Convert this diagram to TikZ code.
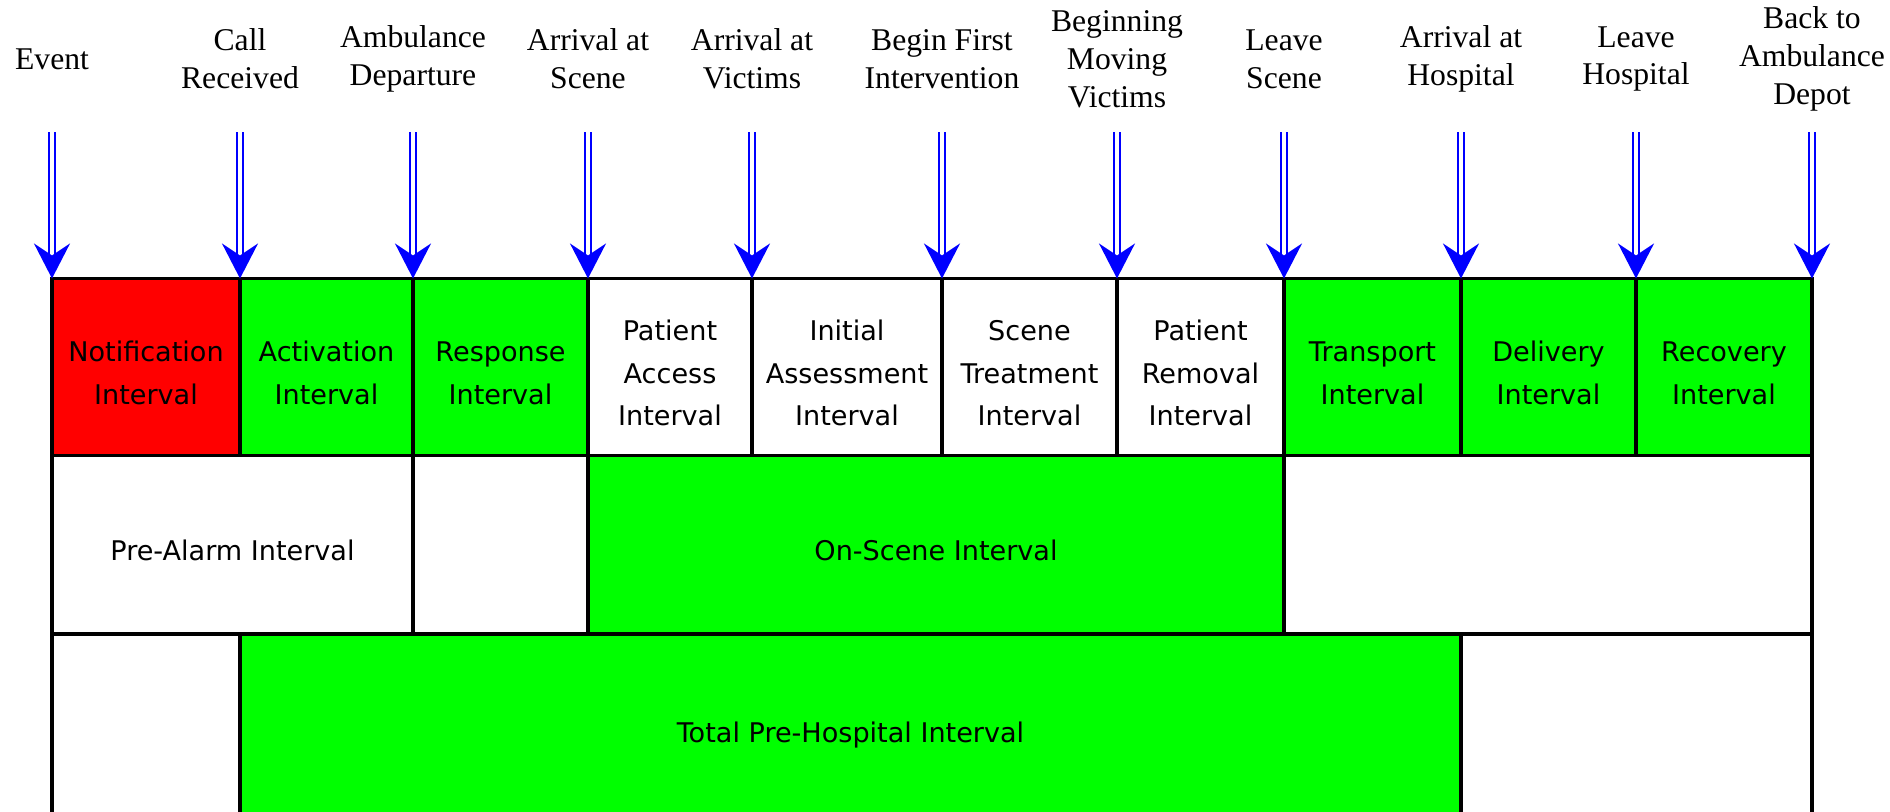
\documentclass[tikz,border=0pt]{standalone}
\usepackage{fontspec}
\setmainfont{Liberation Serif}
\newfontfamily\boxfont{DejaVu Sans}
\usetikzlibrary{arrows.meta}
\definecolor{ivred}{HTML}{FF0000}
\definecolor{ivgreen}{HTML}{00FF00}
\definecolor{evblue}{HTML}{0000FF}
\newcommand{\ivstrut}{\rule{0pt}{9.2pt}}

\tikzset{
  ibox/.style={draw=black,line width=0.9pt,inner sep=0pt,outer sep=0pt,
    align=center,font=\boxfont\fontsize{7.7}{12.2}\selectfont},
  evlabel/.style={align=center,font=\fontsize{9}{10.8}\selectfont},
  evarrow/.style={draw=evblue,line width=0.65pt,double=white,double distance=0.95pt,
    -{Stealth[length=0.35cm,width=0.36cm,inset=0.12cm]}},
}

\begin{document}
\begin{tikzpicture}[x=0.01cm,y=-0.01cm]

  \def\px{0.01cm}
  \def\yT{278.5} % top of the bar
  \def\yA{455.6} % bottom of first row
  \def\yB{634}   % bottom of second row
  \def\yC{824}   % bottom of third row (cut off)

  \clip (0,0) rectangle (1890,811);

  % first row: the ten intervals
  \foreach \a/\b/\c/\t [count=\i] in {
      52/240/ivred/{Notification\\Interval},
      240/413/ivgreen/{Activation\\Interval},
      413/588/ivgreen/{Response\\Interval},
      588/752/white/{Patient\\Access\\Interval},
      752/942/white/{Initial\\Assessment\\Interval},
      942/1117/white/{Scene\\Treatment\\Interval},
      1117/1284/white/{Patient\\Removal\\Interval},
      1284/1461/ivgreen/{Transport\\Interval},
      1461/1636/ivgreen/{Delivery\\Interval},
      1636/1812/ivgreen/{Recovery\\Interval}}
    \node[ibox,fill=\c,minimum width={(\b-\a)*\px},minimum height={(\yA-\yT)*\px}]
      (iv\i) at ({(\a+\b)/2},{(\yT+\yA)/2}) {\ivstrut\t};

  % second row
  \foreach \a/\b/\c/\t [count=\i] in {
      52/413/white/{Pre-Alarm Interval},
      413/588/white/{},
      588/1284/ivgreen/{On-Scene Interval},
      1284/1812/white/{}}
    \node[ibox,fill=\c,minimum width={(\b-\a)*\px},minimum height={(\yB-\yA)*\px}]
      (grp\i) at ({(\a+\b)/2},{(\yA+\yB)/2}) {\ivstrut\t};

  % third row
  \foreach \a/\b/\c/\t [count=\i] in {
      52/240/white/{},
      240/1461/ivgreen/{Total Pre-Hospital Interval},
      1461/1812/white/{}}
    \node[ibox,fill=\c,minimum width={(\b-\a)*\px},minimum height={(\yC-\yB)*\px}]
      (tot\i) at ({(\a+\b)/2},{(\yB+\yC)/2}) {\ivstrut\t};

  % events
  \foreach \x/\t [count=\i] in {
      52/Event,
      240/{Call\\Received},
      413/{Ambulance\\Departure},
      588/{Arrival at\\Scene},
      752/{Arrival at\\Victims},
      942/{Begin First\\Intervention},
      1117/{Beginning\\Moving\\Victims},
      1284/{Leave\\Scene},
      1461/{Arrival at\\Hospital},
      1636/{Leave\\Hospital},
      1812/{Back to\\Ambulance\\Depot}} {
    \node[evlabel] (ev\i) at (\x,59) {\t};
    \coordinate (sh\i) at (\x,132);
  }

  % event arrows
  \foreach \i/\e in {1/iv1.north west, 2/iv2.north west, 3/iv3.north west,
      4/iv4.north west, 5/iv5.north west, 6/iv6.north west, 7/iv7.north west,
      8/iv8.north west, 9/iv9.north west, 10/iv10.north west, 11/iv10.north east}
    \draw[evarrow] (sh\i) -- (\e);

\end{tikzpicture}
\end{document}
